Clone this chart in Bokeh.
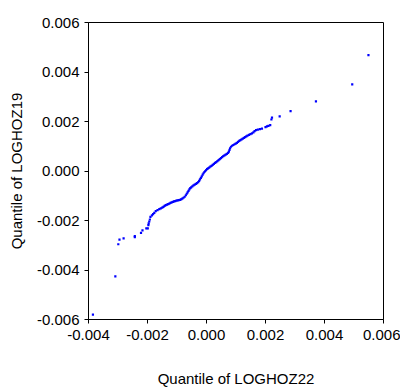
from bokeh.plotting import figure
from bokeh.models import Range1d, FixedTicker, PrintfTickFormatter, ColumnDataSource
from bokeh.embed import file_html
from bokeh.resources import INLINE

# Quantile pairs (x: LOGHOZ22, y: LOGHOZ19)
q_loghoz22 = [
    -0.00385, -0.00309, -0.00299, -0.00295, -0.00281, -0.00243, -0.00243,
    -0.00222, -0.00217, -0.00204, -0.00199, -0.00197, -0.00196, -0.00194,
    -0.00192, -0.00190, -0.00185, -0.00181, -0.00177, -0.00172,
    -0.00166, -0.00160, -0.00155, -0.00150, -0.00146, -0.00142, -0.00138,
    -0.00134, -0.00130, -0.00126, -0.00122, -0.00118, -0.00114, -0.00110,
    -0.00106, -0.00102, -0.00098, -0.00094, -0.00090, -0.00086, -0.00082,
    -0.00078, -0.00074, -0.00070, -0.00067, -0.00064, -0.00061, -0.00058,
    -0.00055, -0.00052, -0.00048, -0.00044, -0.00040, -0.00036, -0.00032,
    -0.00028, -0.00025, -0.00022, -0.00019, -0.00016, -0.00013, -0.00010,
    -0.00007, -0.00004, -0.00001, 0.00002, 0.00005, 0.00009, 0.00013,
    0.00017, 0.00021, 0.00025, 0.00029, 0.00033, 0.00037, 0.00041, 0.00045,
    0.00049, 0.00053, 0.00057, 0.00061, 0.00065, 0.00069, 0.00073, 0.00076,
    0.00078, 0.00080, 0.00083, 0.00087, 0.00091, 0.00095, 0.00099, 0.00103,
    0.00107, 0.00111, 0.00115, 0.00119, 0.00123, 0.00127, 0.00131, 0.00135,
    0.00139, 0.00144, 0.00149, 0.00154, 0.00159, 0.00163, 0.00168, 0.00174,
    0.00181, 0.00188, 0.00200, 0.00205, 0.00210, 0.00216, 0.00220, 0.00222,
    0.00248, 0.00285, 0.00371, 0.00494, 0.00549,
]
q_loghoz19 = [
    -0.00580, -0.00426, -0.00296, -0.00277, -0.00272, -0.00267, -0.00263,
    -0.00250, -0.00240, -0.00232, -0.00232, -0.00219, -0.00212, -0.00204,
    -0.00196, -0.00185, -0.00179, -0.00174, -0.00169, -0.00162,
    -0.00158, -0.00154, -0.00151, -0.00148, -0.00145, -0.00141, -0.00138,
    -0.00136, -0.00134, -0.00132, -0.00129, -0.00127, -0.00125, -0.00123,
    -0.00122, -0.00120, -0.00119, -0.00118, -0.00117, -0.00115, -0.00112,
    -0.00108, -0.00104, -0.00098, -0.00092, -0.00086, -0.00080, -0.00074,
    -0.00069, -0.00066, -0.00062, -0.00058, -0.00055, -0.00052, -0.00049,
    -0.00045, -0.00040, -0.00034, -0.00028, -0.00022, -0.00015, -0.00009,
    -0.00004, 0.00000, 0.00004, 0.00008, 0.00011, 0.00014, 0.00018,
    0.00021, 0.00025, 0.00029, 0.00033, 0.00036, 0.00040, 0.00044, 0.00048,
    0.00052, 0.00056, 0.00060, 0.00063, 0.00066, 0.00069, 0.00073, 0.00078,
    0.00085, 0.00092, 0.00098, 0.00102, 0.00105, 0.00108, 0.00111, 0.00114,
    0.00118, 0.00122, 0.00125, 0.00128, 0.00131, 0.00134, 0.00137, 0.00140,
    0.00143, 0.00146, 0.00149, 0.00152, 0.00156, 0.00161, 0.00165, 0.00167,
    0.00169, 0.00171, 0.00177, 0.00180, 0.00182, 0.00185, 0.00208, 0.00216,
    0.00221, 0.00242, 0.00281, 0.00350, 0.00468,
]

x_ticks = [-0.004, -0.002, 0.0, 0.002, 0.004, 0.006]
y_ticks = [-0.006, -0.004, -0.002, 0.0, 0.002, 0.004, 0.006]
x_title = "Quantile of LOGHOZ22"
y_title = "Quantile of LOGHOZ19"

src = ColumnDataSource(dict(x=q_loghoz22, y=q_loghoz19))

p = figure(width=400, height=390, output_backend="svg", toolbar_location=None,
           x_range=Range1d(-0.004, 0.006), y_range=Range1d(-0.006, 0.006),
           min_border_left=88, min_border_right=17, min_border_top=22,
           min_border_bottom=71)
p.background_fill_color = "white"
p.border_fill_color = "white"
p.outline_line_color = "black"
p.outline_line_width = 1
p.grid.visible = False

p.scatter("x", "y", source=src, marker="square", size=2.2,
          fill_color="#0000FF", line_color=None)

for ax, ticks in ((p.xaxis[0], x_ticks), (p.yaxis[0], y_ticks)):
    ax.ticker = FixedTicker(ticks=ticks)
    ax.formatter = PrintfTickFormatter(format="%.3f")
    ax.major_tick_out = 4
    ax.major_tick_in = 0
    ax.minor_tick_line_color = None
    ax.axis_line_color = "black"
    ax.major_tick_line_color = "black"
    ax.major_label_text_font = "Liberation Sans"
    ax.major_label_text_font_size = "15px"
    ax.major_label_text_color = "black"
    ax.axis_label_text_font = "Liberation Sans"
    ax.axis_label_text_color = "black"
    ax.axis_label_text_font_style = "normal"
    ax.axis_label_text_font_size = "15px"

p.xaxis[0].axis_label = x_title
p.yaxis[0].axis_label = y_title
p.xaxis[0].major_label_standoff = 6
p.xaxis[0].axis_label_standoff = 27
p.yaxis[0].major_label_standoff = 5
p.yaxis[0].axis_label_standoff = 9

open("out.html", "w").write(file_html(p, INLINE))
